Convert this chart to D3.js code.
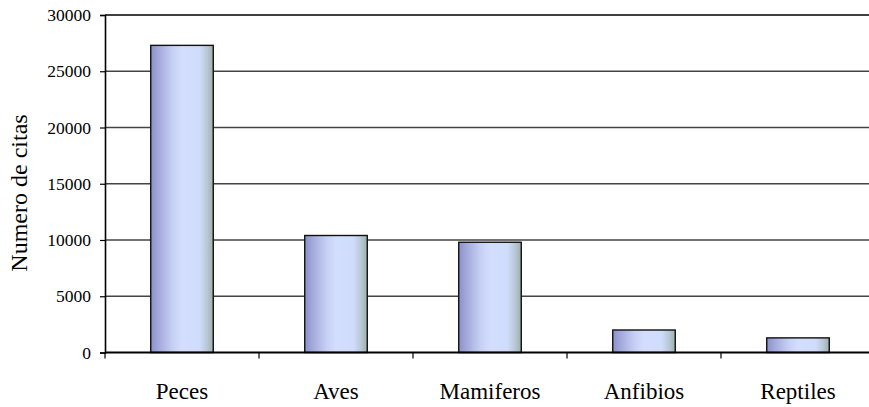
<!DOCTYPE html>
<html>
<head>
<meta charset="utf-8">
<script src="https://cdn.jsdelivr.net/npm/d3@7"></script>
<style>
  html, body { margin: 0; padding: 0; background: #fff; overflow: hidden; }
  svg { display: block; }
</style>
</head>
<body>
<svg id="chart" width="869" height="407"></svg>
<script>
// Citations by vertebrate group
const categories = ["Peces", "Aves", "Mamiferos", "Anfibios", "Reptiles"];
const citas = [27300, 10400, 9800, 2000, 1300];
const yTicks = [0, 5000, 10000, 15000, 20000, 25000, 30000];
const yTitle = "Numero de citas";

const FONT = '"Liberation Serif", "Times New Roman", serif';

const svg = d3.select("#chart");
const plot = { left: 105, right: 875, top: 15, bottom: 352.5 };

const x = d3.scaleBand()
  .domain(categories)
  .range([plot.left, plot.right])
  .paddingInner(0.594)
  .paddingOuter(0.297);

const y = d3.scaleLinear()
  .domain([0, 30000])
  .range([plot.bottom, plot.top]);

// bar fill: dark blue-violet on the left, pale blue body, grey-green right edge
const defs = svg.append("defs");
const grad = defs.append("linearGradient")
  .attr("id", "barFill")
  .attr("x1", "0%").attr("x2", "100%").attr("y1", "0%").attr("y2", "0%");
[
  [0, "#8b91cb"],
  [0.12, "#a2a8da"],
  [0.35, "#c6d0f5"],
  [0.5, "#d3defe"],
  [0.78, "#d0dcfb"],
  [0.9, "#b8c8d8"],
  [1, "#9eb0a8"]
].forEach(([o, c]) => grad.append("stop").attr("offset", o).attr("stop-color", c));

// horizontal gridlines
svg.append("g")
  .selectAll("line")
  .data(yTicks.filter(t => t > 0 && t < 30000))
  .join("line")
  .attr("x1", plot.left).attr("x2", plot.right)
  .attr("y1", d => y(d)).attr("y2", d => y(d))
  .attr("stroke", "#444").attr("stroke-width", 1.3);

// top border of the plot area
svg.append("line")
  .attr("x1", plot.left).attr("x2", plot.right)
  .attr("y1", y(30000)).attr("y2", y(30000))
  .attr("stroke", "#000").attr("stroke-width", 1.6);

// bars
const bw = x.bandwidth();
svg.append("g")
  .selectAll("rect")
  .data(citas)
  .join("rect")
  .attr("x", (d, i) => x(categories[i]))
  .attr("y", d => y(d))
  .attr("width", bw)
  .attr("height", d => y(0) - y(d))
  .attr("fill", "url(#barFill)")
  .attr("stroke", "#111")
  .attr("stroke-width", 1.4);

// y axis
const yAxis = d3.axisLeft(y).tickValues(yTicks).tickSize(5).tickPadding(9).tickFormat(d3.format("d"));
const gy = svg.append("g").attr("transform", `translate(${plot.left},0)`).call(yAxis);
gy.select(".domain").attr("stroke", "#000").attr("stroke-width", 1.6);
gy.selectAll(".tick line").attr("stroke", "#000").attr("stroke-width", 1.2);
gy.selectAll(".tick text")
  .style("font-family", FONT)
  .style("font-size", "17.5px")
  .attr("fill", "#000");

// x axis baseline and category dividers
svg.append("line")
  .attr("x1", plot.left).attr("x2", plot.right)
  .attr("y1", y(0)).attr("y2", y(0))
  .attr("stroke", "#000").attr("stroke-width", 1.8);

const step = x.step();
svg.append("g")
  .selectAll("line")
  .data(d3.range(categories.length + 1))
  .join("line")
  .attr("x1", i => plot.left + i * step).attr("x2", i => plot.left + i * step)
  .attr("y1", y(0)).attr("y2", y(0) + 6)
  .attr("stroke", "#000").attr("stroke-width", 1.2);

// category labels
svg.append("g")
  .selectAll("text")
  .data(categories)
  .join("text")
  .attr("x", d => x(d) + bw / 2)
  .attr("y", 399)
  .attr("text-anchor", "middle")
  .style("font-family", FONT)
  .style("font-size", "23px")
  .attr("fill", "#000")
  .text(d => d);

// y axis title
svg.append("text")
  .attr("transform", "translate(27,193) rotate(-90)")
  .attr("text-anchor", "middle")
  .style("font-family", FONT)
  .style("font-size", "24px")
  .attr("fill", "#000")
  .text(yTitle);
</script>
</body>
</html>
